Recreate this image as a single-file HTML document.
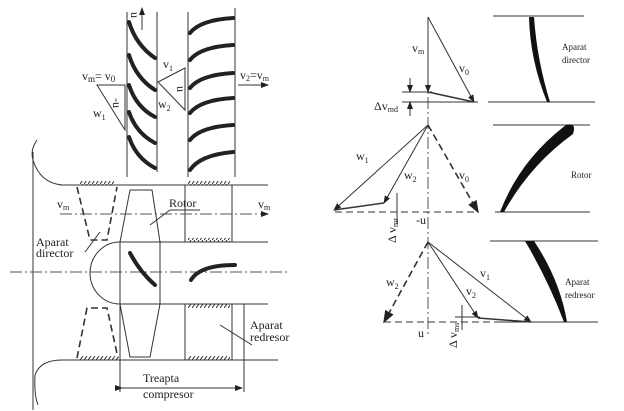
<!DOCTYPE html>
<html><head><meta charset="utf-8"><style>
body{margin:0;background:#fff}
svg{display:block}
text{font-family:"Liberation Serif",serif;fill:#222}
</style></head><body>
<svg width="624" height="411" viewBox="0 0 624 411" xmlns="http://www.w3.org/2000/svg">
<defs><marker id="a" markerWidth="8" markerHeight="6" refX="7" refY="3" orient="auto"><path d="M0,0 L8,3 L0,6z" fill="#222"/></marker>
<pattern id="h" width="4" height="4" patternUnits="userSpaceOnUse"><line x1="0" y1="4" x2="3" y2="0" stroke="#333" stroke-width="1"/></pattern></defs>
<g fill="url(#h)">
<rect x="80" y="181" width="34" height="4"/><rect x="188" y="181" width="42" height="4"/>
<rect x="188" y="238" width="42" height="4"/><rect x="188" y="304" width="42" height="4"/>
<rect x="80" y="356" width="38" height="4"/><rect x="188" y="356" width="42" height="4"/>
</g>
<g stroke="#333" stroke-width="1" fill="none">
<line x1="127" y1="12" x2="127" y2="177"/><line x1="157" y1="12" x2="157" y2="172"/>
<line x1="188" y1="12" x2="188" y2="177"/><line x1="235" y1="8" x2="235" y2="177"/>
<g stroke="#222" stroke-width="4" stroke-linecap="round">
<path d="M129,22 Q136,45 155,58"/><path d="M129,55 Q136,78 155,90"/><path d="M129,85 Q136,107 155,117"/><path d="M129,112 Q136,133 155,143"/><path d="M129,137 Q136,158 155,168"/>
<path d="M190,33 Q200,20 233,18"/><path d="M190,60 Q200,47 233,45"/><path d="M190,88 Q200,75 233,73"/><path d="M190,113 Q200,100 233,98"/><path d="M190,140 Q200,127 233,125"/><path d="M190,170 Q200,155 233,152"/>
</g>
<line x1="142" y1="30" x2="142" y2="8" marker-end="url(#a)"/>
<path d="M97,85 L125,85 L125,130 Z"/>
<path d="M158,82 L185,68 L185,110 Z"/>
<line x1="238" y1="85" x2="268" y2="85" marker-end="url(#a)"/>
<line x1="60" y1="185" x2="268" y2="185"/>
<line x1="160" y1="242" x2="268" y2="242"/><line x1="160" y1="304" x2="268" y2="304"/>
<line x1="60" y1="360" x2="278" y2="360"/>
<line x1="33" y1="152" x2="33" y2="410"/>
<path d="M37,140 Q30,150 33,160 Q40,183 62,185"/>
<path d="M62,360 Q40,360 35,375 Q34,395 38,405"/>
<rect x="120" y="242" width="40" height="62"/>
<path d="M120,242 A30,31 0 0 0 120,304"/>
<path d="M130,190 L152,190 L160,242 M120,242 L130,190"/>
<path d="M120,304 L130,357 L150,357 L160,304"/>
<line x1="185" y1="185" x2="185" y2="242"/><line x1="232" y1="185" x2="232" y2="242"/>
<line x1="185" y1="304" x2="185" y2="360"/><line x1="232" y1="304" x2="232" y2="360"/>
<line x1="244" y1="304" x2="244" y2="392"/><line x1="120" y1="304" x2="120" y2="392"/>
<line x1="122" y1="388" x2="242" y2="388" marker-end="url(#a)" marker-start="url(#a)"/>
<g stroke-dasharray="7,4" stroke-width="1.6">
<path d="M77,187 L90,240 L107,240 L117,187"/><path d="M77,358 L87,308 L107,308 L118,358"/>
</g>
<line x1="10" y1="272" x2="290" y2="272" stroke-dasharray="12,3,2,3" stroke="#555"/>
<line x1="60" y1="214" x2="268" y2="214" stroke-dasharray="12,3,2,3" stroke="#555" marker-end="url(#a)"/>
<path d="M150,225 L170,210 L200,210"/>
<path d="M85,252 L100,232"/>
<path d="M220,325 L252,345"/>
<g stroke="#222" stroke-width="4" stroke-linecap="round">
<path d="M130,253 Q140,272 155,285"/><path d="M191,280 Q200,265 235,265"/>
</g>
<line x1="428" y1="17" x2="428" y2="335" stroke-dasharray="12,3,2,3" stroke="#555"/>
<line x1="428" y1="17" x2="428" y2="92" marker-end="url(#a)"/>
<line x1="428" y1="17" x2="474" y2="102" marker-end="url(#a)"/>
<line x1="428" y1="92" x2="474" y2="102" stroke-width="1.5"/>
<line x1="402" y1="92" x2="432" y2="92"/><line x1="402" y1="102" x2="478" y2="102"/>
<line x1="410" y1="78" x2="410" y2="92" marker-end="url(#a)"/><line x1="410" y1="116" x2="410" y2="102" marker-end="url(#a)"/>
<line x1="493" y1="16" x2="584" y2="16"/><line x1="488" y1="102" x2="595" y2="102"/>
<line x1="428" y1="125" x2="334" y2="210" marker-end="url(#a)"/>
<line x1="428" y1="125" x2="384" y2="203" marker-end="url(#a)"/>
<line x1="428" y1="125" x2="478" y2="212" stroke-dasharray="7,4" stroke-width="1.6" marker-end="url(#a)"/>
<line x1="335" y1="212" x2="478" y2="212" stroke-dasharray="7,4"/>
<line x1="334" y1="210" x2="384" y2="203" stroke-width="1.5"/>
<line x1="397" y1="193" x2="397" y2="224"/>
<line x1="493" y1="125" x2="590" y2="125"/><line x1="495" y1="212" x2="590" y2="212"/>
<line x1="428" y1="242" x2="384" y2="322" stroke-dasharray="7,4" stroke-width="1.6" marker-end="url(#a)"/>
<line x1="428" y1="242" x2="478" y2="318" marker-end="url(#a)"/>
<line x1="428" y1="242" x2="531" y2="322" marker-end="url(#a)"/>
<line x1="384" y1="322" x2="531" y2="322" stroke-dasharray="7,4"/>
<line x1="478" y1="318" x2="531" y2="322" stroke-width="1.5"/>
<line x1="455" y1="317" x2="480" y2="317"/>
<line x1="462" y1="305" x2="462" y2="330"/>
<line x1="490" y1="241" x2="598" y2="241"/><line x1="495" y1="322" x2="598" y2="322"/>
</g>
<g fill="#111">
<path d="M529,17 L534,17 Q537,60 550,102 L547,102 Q530,60 529,17Z"/>
<path d="M500,212 Q520,160 566,125 Q577,122 573,134 Q530,165 504,212Z"/>
<path d="M525,241 L534,241 Q560,280 567,322 L564,322 Q548,280 525,241Z"/>
</g>
<g font-size="12">
<text x="82" y="80">v<tspan font-size="9" dy="2">m</tspan><tspan dy="-2">= v</tspan><tspan font-size="9" dy="2">0</tspan></text>
<text x="93" y="117">w<tspan font-size="8" dy="3">1</tspan></text>
<text x="113" y="98" transform="rotate(90 113 98)">-u</text>
<text x="131" y="12" transform="rotate(90 131 12)">u</text>
<text x="163" y="68">v<tspan font-size="8" dy="3">1</tspan></text>
<text x="158" y="108">w<tspan font-size="8" dy="3">2</tspan></text>
<text x="177" y="86" transform="rotate(90 177 86)">u</text>
<text x="240" y="79">v<tspan font-size="8" dy="2">2</tspan><tspan dy="-2">=v</tspan><tspan font-size="8" dy="2">m</tspan></text>
<text x="57" y="208">v<tspan font-size="8" dy="2">m</tspan></text>
<text x="258" y="208">v<tspan font-size="8" dy="2">m</tspan></text>
<text x="169" y="207">Rotor</text>
<text x="36" y="246">Aparat</text><text x="36" y="257">director</text>
<text x="250" y="329">Aparat</text><text x="250" y="341">redresor</text>
<text x="143" y="382">Treapta</text><text x="143" y="398">compresor</text>
<text x="412" y="52">v<tspan font-size="8" dy="2">m</tspan></text>
<text x="459" y="72">v<tspan font-size="8" dy="3">0</tspan></text>
<text x="374" y="110">Δv<tspan font-size="8" dy="2">md</tspan></text>
<text x="562" y="50" font-family="Liberation Sans" font-size="9">Aparat</text>
<text x="562" y="63" font-family="Liberation Sans" font-size="9">director</text>
<text x="356" y="160">w<tspan font-size="8" dy="3">1</tspan></text>
<text x="404" y="179">w<tspan font-size="8" dy="3">2</tspan></text>
<text x="459" y="179">v<tspan font-size="8" dy="3">0</tspan></text>
<text x="416" y="224">-u</text>
<text x="396" y="243" transform="rotate(-90 396 243)">Δ v<tspan font-size="8" dy="2">mr</tspan></text>
<text x="571" y="178" font-family="Liberation Sans" font-size="9">Rotor</text>
<text x="386" y="286">w<tspan font-size="8" dy="3">2</tspan></text>
<text x="480" y="277">v<tspan font-size="8" dy="3">1</tspan></text>
<text x="466" y="295">v<tspan font-size="8" dy="3">2</tspan></text>
<text x="418" y="337">u</text>
<text x="457" y="348" transform="rotate(-90 457 348)">Δ v<tspan font-size="8" dy="2">ms</tspan></text>
<text x="565" y="285" font-family="Liberation Sans" font-size="9">Aparat</text>
<text x="565" y="298" font-family="Liberation Sans" font-size="9">redresor</text>
</g>
</svg>
</body></html>
